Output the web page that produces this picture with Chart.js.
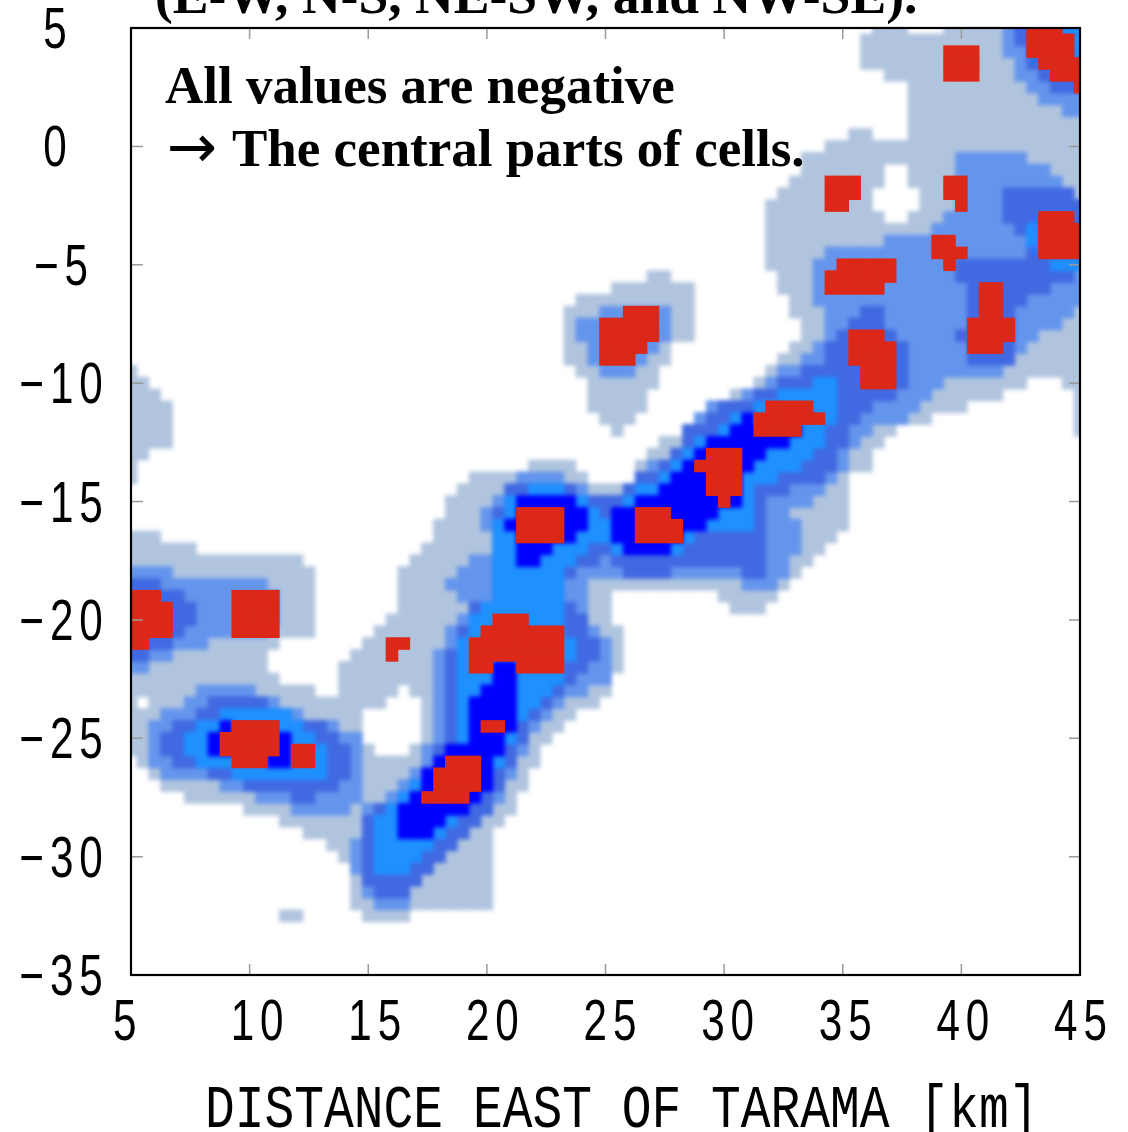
<!DOCTYPE html>
<html>
<head>
<meta charset="utf-8">
<title>Distance east of Tarama</title>
<script src="https://cdn.jsdelivr.net/npm/chart.js@4"></script>
<style>
  html, body { margin: 0; padding: 0; background: #fff; overflow: hidden; }
  canvas { display: block; }
</style>
</head>
<body>
<canvas id="map" width="1128" height="1132"></canvas>
<script>
// grid is 0.5 km: column c = 5 + c/2 km east, row r = 5 - r/2 km north
// every entry is "rows:columns columns ..." where a cell is at or above that level
var xTickLabels = ['5', '10', '15', '20', '25', '30', '35', '40', '45'];
var yTickLabels = ['5', '0', '\u22125', '\u221210', '\u221215', '\u221220', '\u221225', '\u221230', '\u221235'];
var xAxisTitle = 'DISTANCE EAST OF TARAMA [km]';
var topTitle = '(E-W, N-S, NE-SW, and NW-SE).';
var noteArrow = '\u2192';
var noteLines = ['All values are negative', 'The central parts of cells.'];

var level1 = ['0:63-65 69-80', '1-3:62-80', '4:64-80', '5-8:66-80', '9:61-62 66-80', '10:59-80', '11:57-80',
  '12:57-63 66-80', '13:56-63 66-80', '14:55-62 67-80', '15:54-62 67-80', '16:54-63 66-80', '17-20:54-80',
  '21-22:55-80', '21:44-45', '22:41-47', '23:38-47 56-80', '24:37-47 56-80', '25-26:37-47 57-80', '27:37-45 56-80',
  '28:37-45 55-80', '29:0-0 38-44 54-80', '30:0-1 39-44 53-75 79-80', '31:0-2 39-43 51-73 80-80',
  '32:0-3 39-43 49-70 80-80', '33:0-3 40-42 48-67 80-80', '34:0-3 41-41 47-64 80-80', '35:0-3 45-63', '36:0-1 44-62',
  '37:0-0 34-37 43-62', '38:0-0 29-38 43-60', '39:28-60', '40-41:27-60', '42:26-60', '43:0-2 26-59', '44:0-5 25-58',
  '45:0-14 24-57', '46:0-15 23-56', '47:0-15 23-55', '48:0-15 23-40 50-54', '49:0-15 23-40 51-53', '50:0-15 22-40',
  '51:0-15 21-41', '52:0-12 20-41', '53:0-11 19-41', '54:0-11 18-41', '55:0-12 18-40', '56:0-15 18-22 24-40',
  '57:0-0 2-21 25-39', '58:0-19 25-37', '59:0-19 25-36', '60:0-19 25-35', '61:0-20 24-34', '62:1-34', '63:2-33',
  '64:3-33', '65:5-32', '66:10-32', '67:13-31', '68:15-30', '69:17-30', '70:18-30', '71-74:19-30', '75:13-14 20-23'];

var level2 = ['0-2:74-80', '3-4:75-80', '5:76-80', '6:77-80', '7:79-80', '11:70-75', '12:70-77', '13:70-78', '14:70-79',
  '15:70-80', '16:69-80', '17:68-80', '18:64-80', '19:59-80', '20-23:58-80', '24:40-45 59-79', '25:38-45 59-78',
  '26:38-45 59-76', '27:39-44 58-75', '28:39-43 57-74', '29:40-42 55-73', '30:54-68', '31:52-67', '32:49-66',
  '33:48-65', '34:47-62', '35:47-61', '36:46-60', '37:44-60', '38:33-36 43-59', '39:32-38 42-58', '40:31-57',
  '41:30-55', '42:30-56', '43-44:31-56', '45:29-55', '46:0-3 28-55', '47:0-11 27-38 52-54', '48:0-12 28-38',
  '49:0-12 29-38', '50:0-12 28-38', '51:0-11 27-39', '52:0-6 27-40', '53:0-3 26-40', '54:0-1 26-40', '55:26-40',
  '56:6-10 26-38', '57:5-12 26-36', '58:3-14 26-35', '59:2-17 26-34', '60:2-19 26-33', '61:2-19 25-33',
  '62:2-19 25-32', '63:3-19 24-32', '64:8-19 23-31', '65:11-19 22-31', '66:14-18 20-30', '67:20-29', '68:20-28',
  '69:19-27', '70:19-26', '71:19-25', '72:20-24', '73:20-23', '74:21-23'];

var level3 = ['0-1:75-80', '2-3:76-80', '4:77-80', '5:78-80', '14:74-79', '15-16:74-80', '17:75-80', '18-19:76-80',
  '20:70-80', '21:70-79', '22:71-77', '23:71-75', '24:62-63 71-74', '25:61-63 71-74', '26:60-64 70-74',
  '27-28:59-65 71-74', '29:57-65', '30:55-65', '31:53-64', '32:50-62', '33:49-61', '34-35:47-60', '36:46-59',
  '37:45-59', '38:43-58', '39:32-37 42-55', '40:32-53', '41-44:31-53', '45:31-39 41-53', '46:31-37 42-45 52-53',
  '47:0-2 31-36', '48:0-4 31-36', '49:0-5 29-37', '50:0-5 29-38', '51:0-4 28-38', '52:0-3 28-39', '53:0-1 27-39',
  '54:27-38', '55:27-37', '56:27-36', '57:7-11 27-35', '58:6-13 27-34', '59:4-16 27-33', '60:3-17 27-33',
  '61:3-18 26-32', '62:4-18 26-32', '63:7-18 25-31', '64:10-17 24-31', '65:14-15 23-30', '66:21-30', '67:20-29',
  '68:20-28', '69:20-27', '70:20-26', '71:20-25', '72:20-24', '73:21-23'];

var level4 = ['0:79-80', '1-2:80-80', '17-18:76-76', '20:78-80', '30:58-59', '31:55-59', '32:53-59', '33:51-59',
  '34:50-58', '35:48-58', '36:47-57', '37:46-56', '38:45-54', '39:34-36 43-52', '40:32-38 42-52', '41:32-39 41-52',
  '42:31-52', '43:31-47', '44:31-38 41-46', '45:31-37', '46-48:31-36', '49:30-36', '50-51:29-36', '52-53:28-37',
  '54-55:28-36', '56:28-35', '57:28-34', '58:8-13 28-33', '59:6-14 28-32', '60:5-15 28-32', '61:5-16 27-31',
  '62:6-16 27-31', '63:9-16 26-30', '64:24-30', '65:23-29', '66:22-28', '67:21-27', '68:21-26', '69:21-25',
  '70:21-24', '71:21-23'];

var level5 = ['33:52-52', '34:51-56', '35:49-55', '36:48-53', '37:47-52', '38:46-51', '39:45-51', '40:33-37 43-51',
  '41:33-38 41-49', '42:32-38 41-48', '43:33-37 41-46', '44:33-35 42-45', '45:33-34', '54-55:31-32', '56:30-32',
  '57-59:29-32', '59:8-8', '60:7-13 29-31', '61:7-13 27-31', '62:12-13 26-30', '63-64:25-30', '65:24-29', '66:23-28',
  '67:23-26', '68:23-25'];

var level6 = ['0:76-78', '1:76-79', '2:69-71 76-79', '3:69-71 77-80', '4:69-71 78-80', '5:80-80', '13-14:59-61 69-70',
  '15:59-60 70-70', '16:77-79', '17:77-80', '18:68-69 77-80', '19:68-70 77-80', '20:60-64 69-69', '21:59-64',
  '22:59-63 72-73', '23:72-73', '24:42-44 72-73', '25:40-44 71-74', '26:40-44 61-63 71-74', '27:40-43 61-64 71-73',
  '28:40-42 61-64', '29-30:62-64', '32:54-57', '33:53-58', '34:53-56', '36:49-51', '37:48-51', '38-39:49-51', '40:50-50',
  '41:33-36 43-45', '42-43:33-36 43-46', '48:0-2 9-12', '49:0-3 9-12', '50:0-3 9-12 31-33', '51:0-3 9-12 30-36',
  '52:0-1 22-23 29-36', '53:22-22 29-36', '54:29-30 33-36', '59:9-12 30-31', '60:8-12', '61:8-12 14-15',
  '62:9-11 14-15 27-29', '63-64:26-29', '65:25-28'];

var levelColors = ['#b0c4de', '#6495ed', '#4169e1', '#1e90ff', '#0000ff', '#dc2818'];

function toPoints(spans) {
	var pts = [];
	spans.forEach(function (s) {
		var parts = s.split(':');
		var rows = parts[0].split('-').map(Number);
		var r1 = rows.length > 1 ? rows[1] : rows[0];
		for (var r = rows[0]; r <= r1; r++) {
			parts[1].split(' ').forEach(function (cols) {
				var c = cols.split('-').map(Number);
				for (var i = c[0]; i <= c[1]; i++) pts.push({ x: 5 + i / 2, y: 5 - r / 2 });
			});
		}
	});
	return pts;
}

var levels = [level1, level2, level3, level4, level5, level6];
var datasets = levels.map(function (spans, k) {
	return {
		data: toPoints(spans),
		order: levels.length - k,
		pointStyle: 'rect',
		pointRadius: 8.9,
		pointHoverRadius: 8.9,
		pointBorderWidth: 0,
		backgroundColor: levelColors[k],
		showLine: false,
		clip: 0
	};
});

// the axis type in the original is a condensed gothic, so squeeze the labels sideways
function squeezed(ctx, text, x, y, squeeze, spacing) {
	ctx.save();
	ctx.translate(x, y);
	ctx.scale(squeeze, 1);
	ctx.letterSpacing = spacing;
	ctx.fillText(text, 0, 0);
	ctx.restore();
}

// frame, inward ticks and all of the text
var overlay = {
	id: 'overlay',
	beforeDatasetsDraw: function (chart) {
		var a = chart.chartArea;
		chart.ctx.fillStyle = '#fff';
		chart.ctx.fillRect(a.left, a.top, a.right - a.left, a.bottom - a.top);
	},
	afterDatasetDraw: function (chart, args) {
		// the blue bands have soft edges in the original, the red cells stay sharp
		if (args.index !== 4) return;
		var ctx = chart.ctx, a = chart.chartArea;
		ctx.save();
		ctx.beginPath();
		ctx.rect(a.left, a.top, a.right - a.left, a.bottom - a.top);
		ctx.clip();
		ctx.filter = 'blur(2px)';
		ctx.drawImage(chart.canvas, 0, 0);
		ctx.restore();
	},
	afterDatasetsDraw: function (chart) {
		var ctx = chart.ctx, a = chart.chartArea, sx = chart.scales.x, sy = chart.scales.y;
		ctx.save();
		ctx.strokeStyle = '#9a9a9a';
		ctx.lineWidth = 1.5;
		ctx.beginPath();
		sx.ticks.forEach(function (t) {
			var p = sx.getPixelForValue(t.value);
			ctx.moveTo(p, a.top); ctx.lineTo(p, a.top + 11);
			ctx.moveTo(p, a.bottom); ctx.lineTo(p, a.bottom - 11);
		});
		sy.ticks.forEach(function (t) {
			var p = sy.getPixelForValue(t.value);
			ctx.moveTo(a.left, p); ctx.lineTo(a.left + 12, p);
			ctx.moveTo(a.right, p); ctx.lineTo(a.right - 11, p);
		});
		ctx.stroke();
		ctx.strokeStyle = '#000';
		ctx.lineWidth = 2.2;
		ctx.strokeRect(a.left, a.top, a.right - a.left, a.bottom - a.top);

		ctx.fillStyle = '#000';
		ctx.textBaseline = 'alphabetic';
		ctx.textAlign = 'left';
		ctx.font = 'bold 53.6px "Liberation Serif"';
		ctx.fillText(topTitle, 155, 13);
		ctx.font = 'bold 53px "Liberation Serif"';
		ctx.fillText(noteLines[0], 165, 103);
		ctx.fillText(noteLines[1], 232, 166);
		ctx.font = '60px "DejaVu Sans"';
		ctx.fillText(noteArrow, 167, 167);

		ctx.font = '57px "Liberation Sans"';
		sx.ticks.forEach(function (t, i) {
			squeezed(ctx, t.label, sx.getPixelForValue(t.value) - 18 - i, 1040, 0.74, '8px');
		});
		ctx.textAlign = 'center';
		sy.ticks.forEach(function (t) {
			var center = t.label.length > 1 ? 64 : 58;
			squeezed(ctx, t.label, center, sy.getPixelForValue(t.value) + 20, 0.74, '8px');
		});

		ctx.textAlign = 'left';
		ctx.font = '62px "Liberation Mono"';
		squeezed(ctx, xAxisTitle, 205, 1127, 0.8, '0px');
		ctx.restore();
	}
};

new Chart(document.getElementById('map'), {
	type: 'scatter',
	data: { datasets: datasets },
	plugins: [overlay],
	options: {
		responsive: false,
		animation: false,
		events: [],
		layout: { padding: { top: 28, right: 48, bottom: 0, left: 0 } },
		plugins: { legend: { display: false }, tooltip: { enabled: false }, title: { display: false } },
		scales: {
			x: {
				type: 'linear', min: 5, max: 45,
				grid: { display: false, drawTicks: false },
				border: { display: false },
				afterFit: function (s) { s.height = 157; s.paddingLeft = 0; s.paddingRight = 0; },
				ticks: {
					display: false, stepSize: 5, autoSkip: false,
					callback: function (v, i) { return xTickLabels[i]; }
				}
			},
			y: {
				type: 'linear', min: -35, max: 5,
				grid: { display: false, drawTicks: false },
				border: { display: false },
				afterFit: function (s) { s.width = 131; s.paddingTop = 0; s.paddingBottom = 0; },
				ticks: {
					display: false, stepSize: 5, autoSkip: false,
					callback: function (v, i) { return yTickLabels[yTickLabels.length - 1 - i]; }
				}
			}
		}
	}
});
</script>
</body>
</html>
